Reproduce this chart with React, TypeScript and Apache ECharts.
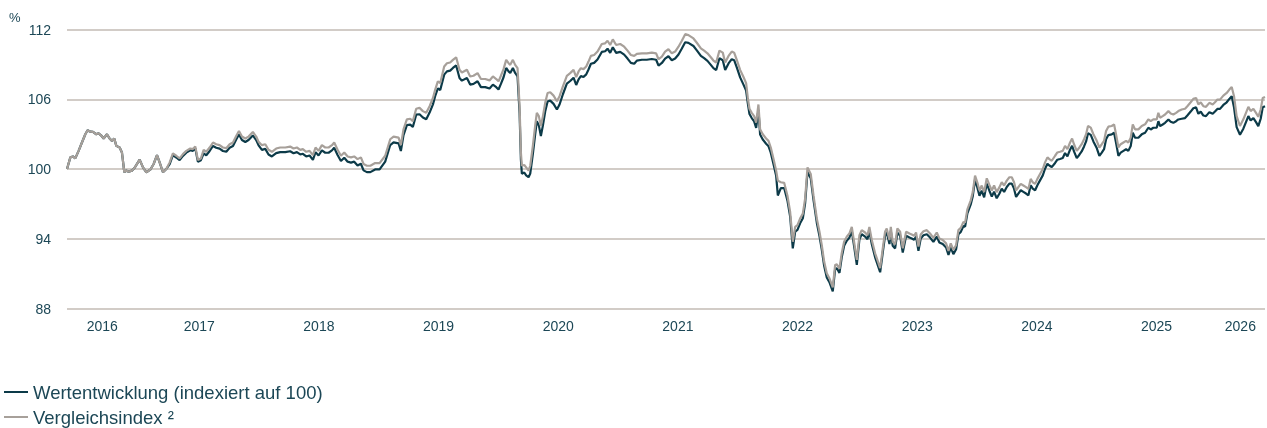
import { useEffect, useRef } from "react";
import * as echarts from "echarts";

// Decimal-year time stamps of the observations
const dates = [
  2016.395, 2016.423, 2016.445, 2016.464, 2016.492, 2016.520, 2016.548, 2016.567, 2016.590, 2016.612,
  2016.640, 2016.659, 2016.679, 2016.701, 2016.729, 2016.751, 2016.771, 2016.790, 2016.807, 2016.835,
  2016.854, 2016.874, 2016.890, 2016.910, 2016.938, 2016.957, 2017.002, 2017.030, 2017.058, 2017.091,
  2017.119, 2017.147, 2017.169, 2017.197, 2017.225, 2017.253, 2017.280, 2017.308, 2017.336, 2017.364,
  2017.392, 2017.425, 2017.447, 2017.467, 2017.489, 2017.514, 2017.537, 2017.559, 2017.587, 2017.615,
  2017.642, 2017.670, 2017.698, 2017.726, 2017.754, 2017.782, 2017.809, 2017.832, 2017.857, 2017.885,
  2017.912, 2017.948, 2017.976, 2017.996, 2018.024, 2018.052, 2018.079, 2018.107, 2018.143, 2018.177,
  2018.219, 2018.260, 2018.288, 2018.316, 2018.344, 2018.366, 2018.394, 2018.422, 2018.450, 2018.472,
  2018.497, 2018.525, 2018.553, 2018.581, 2018.609, 2018.628, 2018.656, 2018.684, 2018.712, 2018.740,
  2018.768, 2018.795, 2018.823, 2018.851, 2018.873, 2018.901, 2018.930, 2018.970, 2019.007,
  2019.054, 2019.096, 2019.124, 2019.166, 2019.185, 2019.207, 2019.235, 2019.263, 2019.285, 2019.313,
  2019.341, 2019.369, 2019.397, 2019.425, 2019.453, 2019.472, 2019.494, 2019.514, 2019.547, 2019.570,
  2019.597, 2019.620, 2019.647, 2019.675, 2019.695, 2019.737, 2019.764, 2019.792, 2019.826, 2019.854,
  2019.890, 2019.926, 2019.954, 2019.982, 2020.001, 2020.021, 2020.043, 2020.065, 2020.085, 2020.099,
  2020.121, 2020.140, 2020.160, 2020.177, 2020.188, 2020.196, 2020.216, 2020.232, 2020.252, 2020.266,
  2020.288, 2020.307, 2020.321, 2020.338, 2020.355, 2020.372, 2020.391, 2020.411, 2020.433, 2020.461,
  2020.489, 2020.511, 2020.539, 2020.572, 2020.600, 2020.628, 2020.650, 2020.670, 2020.689, 2020.711,
  2020.734, 2020.753, 2020.773, 2020.800, 2020.828, 2020.864, 2020.892, 2020.912, 2020.934, 2020.956,
  2020.984, 2021.018, 2021.051, 2021.079, 2021.107, 2021.135, 2021.157, 2021.199, 2021.240, 2021.282,
  2021.318, 2021.338, 2021.366, 2021.393, 2021.421, 2021.449, 2021.477, 2021.505, 2021.533, 2021.561, 2021.588,
  2021.630, 2021.658, 2021.692, 2021.719, 2021.747, 2021.775, 2021.797, 2021.820, 2021.847, 2021.875,
  2021.895, 2021.923, 2021.950, 2021.970, 2021.992, 2022.020, 2022.048, 2022.070, 2022.084, 2022.098,
  2022.117, 2022.137, 2022.154, 2022.173, 2022.187, 2022.209, 2022.237, 2022.257, 2022.276, 2022.299,
  2022.321, 2022.335, 2022.360, 2022.388, 2022.415, 2022.438, 2022.460, 2022.480, 2022.499, 2022.521,
  2022.544, 2022.563, 2022.583, 2022.610, 2022.633, 2022.661, 2022.683, 2022.702, 2022.722, 2022.744,
  2022.766, 2022.794, 2022.814, 2022.828, 2022.850, 2022.869, 2022.889, 2022.911, 2022.933, 2022.953,
  2022.972, 2022.995, 2023.017, 2023.036, 2023.064, 2023.084, 2023.100, 2023.120, 2023.148, 2023.190,
  2023.212, 2023.231, 2023.245, 2023.268, 2023.279, 2023.295, 2023.315, 2023.334, 2023.357, 2023.379,
  2023.407, 2023.435, 2023.454, 2023.474, 2023.490, 2023.510, 2023.529, 2023.552, 2023.580, 2023.607,
  2023.635, 2023.663, 2023.685, 2023.713, 2023.741, 2023.761, 2023.780, 2023.802, 2023.825, 2023.844,
  2023.864, 2023.886, 2023.900, 2023.919, 2023.947, 2023.964, 2023.983, 2024.003, 2024.020, 2024.039,
  2024.059, 2024.081, 2024.103, 2024.123, 2024.142, 2024.164, 2024.187,
  2024.206, 2024.226, 2024.248, 2024.270, 2024.290, 2024.309, 2024.326, 2024.345, 2024.365, 2024.387,
  2024.409, 2024.429, 2024.448, 2024.465, 2024.485, 2024.504, 2024.526, 2024.549, 2024.568, 2024.588,
  2024.604, 2024.624, 2024.652, 2024.671, 2024.693, 2024.716, 2024.735, 2024.755, 2024.777, 2024.794,
  2024.810, 2024.833, 2024.855, 2024.874, 2024.894, 2024.911, 2024.927, 2024.950, 2024.972, 2025.000,
  2025.022, 2025.042, 2025.061, 2025.078, 2025.097, 2025.125, 2025.145, 2025.161, 2025.181, 2025.200,
  2025.223, 2025.245, 2025.264, 2025.284, 2025.301, 2025.320, 2025.348, 2025.376, 2025.404, 2025.431,
  2025.451, 2025.473, 2025.501, 2025.515, 2025.529, 2025.551, 2025.571, 2025.599, 2025.618, 2025.640,
  2025.663, 2025.682, 2025.710, 2025.738, 2025.757, 2025.785, 2025.807, 2025.830, 2025.849, 2025.869,
  2025.891, 2025.913, 2025.941, 2025.969, 2025.988, 2026.008, 2026.030, 2026.058, 2026.086, 2026.108,
  2026.128, 2026.147, 2026.169, 2026.197, 2026.225, 2026.247, 2026.267, 2026.286, 2026.309, 2026.331,
  2026.350, 2026.370, 2026.387, 2026.406,
];

// Fund performance (indexed to 100)
const wertentwicklung = [
  100.00, 101.00, 101.08, 100.91, 101.56, 102.28, 102.99, 103.33, 103.21, 103.19,
  102.99, 103.07, 102.90, 102.62, 102.99, 102.62, 102.42, 102.62, 101.99, 101.85,
  101.42, 99.72, 99.86, 99.77, 99.86, 100.06, 100.80, 100.14, 99.72, 99.94,
  100.43, 101.19, 100.57, 99.72, 100.00, 100.42, 101.19, 100.99, 100.76, 101.13,
  101.41, 101.61, 101.56, 101.78, 100.62, 100.76, 101.35, 101.18, 101.55, 101.98,
  101.83, 101.75, 101.55, 101.49, 101.83, 101.98, 102.54, 102.97, 102.49, 102.32,
  102.49, 102.89, 102.49, 102.03, 101.65, 101.73, 101.25, 101.08, 101.36, 101.45,
  101.45, 101.53, 101.36, 101.45, 101.25, 101.31, 101.08, 101.16, 100.79, 101.45,
  101.16, 101.60, 101.40, 101.40, 101.60, 101.83, 101.20, 100.69, 100.97, 100.63,
  100.55, 100.63, 100.30, 100.45, 99.88, 99.73, 99.73, 99.96, 99.96,
  100.64, 102.06, 102.29, 102.20, 101.55, 102.91, 103.77, 103.82, 103.62, 104.68,
  104.71, 104.43, 104.28, 104.85, 105.56, 106.28, 106.94, 106.79, 108.12, 108.40,
  108.46, 108.69, 108.91, 107.83, 107.60, 107.83, 107.26, 107.32, 107.55, 107.04,
  107.04, 106.92, 107.26, 107.04, 106.84, 107.32, 107.89, 108.69, 108.40, 108.26,
  108.69, 108.26, 107.97, 104.80, 100.80, 99.60, 99.70, 99.45, 99.29, 99.60,
  101.30, 102.95, 104.10, 103.75, 102.84, 103.75, 104.95, 105.80, 105.88, 105.60,
  105.12, 105.55, 106.43, 107.34, 107.57, 107.85, 107.23, 107.71, 107.99, 107.91,
  108.14, 108.56, 109.05, 109.13, 109.42, 110.07, 110.13, 110.35, 109.99, 110.47,
  109.99, 110.07, 109.84, 109.50, 109.13, 109.05, 109.32, 109.40, 109.40, 109.46,
  109.40, 108.89, 109.12, 109.50, 109.70, 109.35, 109.50, 109.85, 110.36, 110.90, 110.85,
  110.58, 110.21, 109.73, 109.53, 109.30, 108.96, 108.68, 108.51, 109.53, 109.36,
  108.51, 109.08, 109.45, 109.36, 108.74, 107.88, 107.26, 106.74, 105.66, 104.73,
  104.38, 104.10, 103.53, 105.10, 102.96, 102.54, 102.17, 101.97, 101.40, 100.40,
  99.41, 97.72, 98.36, 98.36, 97.30, 95.90, 93.17, 94.62, 94.77, 95.33,
  95.76, 97.04, 99.74, 99.20, 97.35, 95.36, 94.23, 93.09, 91.67, 90.67,
  90.26, 89.48, 91.40, 91.46, 91.06, 92.40, 93.39, 93.82, 94.10, 94.67,
  93.39, 91.75, 93.96, 94.39, 94.19, 93.96, 94.67, 93.54, 92.40, 91.12,
  92.82, 94.25, 94.53, 93.54, 94.67, 93.39, 93.17, 94.53, 94.25, 92.82,
  94.25, 94.10, 94.02, 93.91, 94.19, 92.97, 94.02, 94.30, 94.39, 94.10,
  93.73, 94.19, 93.68, 93.54, 93.25, 92.60, 93.25, 92.68, 93.11, 94.39,
  94.59, 95.10, 95.04, 96.18, 96.95, 97.66, 99.08, 98.36, 97.70, 98.13,
  97.56, 98.75, 98.13, 97.62, 98.05, 97.48, 97.89,
  98.31, 98.03, 98.45, 98.74, 98.74, 98.31, 97.60, 97.89, 98.17, 98.03,
  97.89, 97.74, 98.60, 98.31, 98.17, 98.60, 99.02, 99.45, 100.02, 100.45,
  100.30, 100.16, 100.52, 100.80, 100.86, 100.94, 101.37, 101.09, 101.66, 102.00,
  101.51, 100.94, 101.23, 101.51, 101.94, 102.37, 103.08, 102.94, 102.37, 101.80,
  101.13, 101.41, 101.70, 102.55, 102.92, 102.98, 103.12, 102.27, 101.13, 101.41,
  101.56, 101.70, 101.56, 101.98, 103.12, 102.69, 102.69, 102.98, 103.12, 103.55,
  103.40, 103.55, 103.55, 104.11, 103.69, 103.83, 103.97, 104.26, 104.06, 103.97,
  104.11, 104.26, 104.32, 104.38, 104.60, 104.94, 105.23, 105.31, 104.75, 104.94,
  104.60, 104.55, 104.89, 104.75, 104.94, 105.17, 105.17, 105.51, 105.74, 106.03,
  106.25, 105.30, 103.60, 102.95, 103.47, 104.03, 104.55, 104.18, 104.38, 104.03,
  103.69, 104.32, 105.31, 105.40,
];

// Benchmark index
const vergleichsindex = [
  100.00, 101.00, 101.08, 100.91, 101.56, 102.28, 102.99, 103.33, 103.21, 103.19,
  102.99, 103.07, 102.90, 102.62, 102.99, 102.62, 102.42, 102.62, 101.99, 101.85,
  101.42, 99.72, 99.86, 99.77, 99.86, 100.06, 100.80, 100.14, 99.72, 99.94,
  100.43, 101.19, 100.57, 99.72, 100.00, 100.57, 101.34, 101.14, 100.91, 101.28,
  101.56, 101.76, 101.71, 101.93, 100.77, 100.91, 101.65, 101.48, 101.85, 102.28,
  102.13, 102.05, 101.85, 101.79, 102.13, 102.28, 102.84, 103.27, 102.79, 102.62,
  102.79, 103.19, 102.79, 102.33, 102.05, 102.13, 101.65, 101.48, 101.76, 101.85,
  101.85, 101.93, 101.76, 101.85, 101.65, 101.71, 101.48, 101.56, 101.19, 101.85,
  101.56, 102.05, 101.85, 101.85, 102.05, 102.28, 101.65, 101.14, 101.42, 101.08,
  101.00, 101.08, 100.85, 101.00, 100.43, 100.28, 100.28, 100.51, 100.51,
  101.14, 102.56, 102.79, 102.70, 102.05, 103.41, 104.27, 104.32, 104.12, 105.18,
  105.26, 104.98, 104.83, 105.40, 106.11, 106.83, 107.54, 107.39, 108.82, 109.10,
  109.16, 109.39, 109.61, 108.53, 108.30, 108.53, 107.96, 108.02, 108.25, 107.74,
  107.74, 107.62, 107.96, 107.74, 107.54, 108.02, 108.59, 109.39, 109.10, 108.96,
  109.39, 108.96, 108.67, 105.40, 101.42, 100.28, 100.34, 100.14, 99.86, 100.28,
  101.99, 103.70, 104.83, 104.55, 103.70, 104.55, 105.69, 106.54, 106.60, 106.31,
  105.83, 106.26, 107.11, 108.02, 108.25, 108.53, 107.91, 108.39, 108.67, 108.59,
  108.82, 109.24, 109.73, 109.81, 110.10, 110.75, 110.81, 111.03, 110.67, 111.15,
  110.67, 110.75, 110.52, 110.18, 109.81, 109.73, 109.90, 109.95, 109.95, 110.01,
  109.95, 109.44, 109.67, 110.10, 110.30, 109.95, 110.10, 110.52, 111.03, 111.60, 111.52,
  111.23, 110.86, 110.38, 110.18, 109.95, 109.61, 109.33, 109.16, 110.18, 110.01,
  109.16, 109.73, 110.10, 110.01, 109.39, 108.53, 107.91, 107.39, 106.11, 105.18,
  104.83, 104.55, 103.98, 105.55, 103.41, 102.99, 102.62, 102.42, 101.85, 100.85,
  99.86, 99.00, 98.86, 98.81, 97.72, 96.30, 93.74, 95.02, 95.17, 95.73,
  96.16, 97.44, 100.14, 99.57, 97.72, 95.73, 94.60, 93.46, 92.04, 91.04,
  90.61, 89.82, 91.75, 91.81, 91.41, 92.75, 93.74, 94.17, 94.45, 95.02,
  93.74, 92.18, 94.31, 94.74, 94.54, 94.31, 95.02, 93.89, 92.75, 91.47,
  93.17, 94.60, 94.88, 93.89, 95.02, 93.74, 93.52, 94.88, 94.60, 93.17,
  94.60, 94.45, 94.37, 94.26, 94.54, 93.32, 94.37, 94.65, 94.74, 94.45,
  94.08, 94.54, 94.03, 93.89, 93.60, 92.95, 93.60, 93.03, 93.46, 94.74,
  94.94, 95.45, 95.39, 96.53, 97.30, 98.01, 99.43, 98.81, 98.15, 98.58,
  98.01, 99.20, 98.63, 98.15, 98.58, 98.01, 98.44,
  98.86, 98.58, 99.00, 99.29, 99.29, 98.86, 98.15, 98.44, 98.72, 98.58,
  98.44, 98.29, 99.15, 98.86, 98.72, 99.15, 99.57, 100.00, 100.57, 101.00,
  100.85, 100.71, 101.14, 101.42, 101.48, 101.56, 101.99, 101.71, 102.28, 102.62,
  102.13, 101.56, 101.85, 102.13, 102.56, 102.99, 103.70, 103.56, 102.99, 102.42,
  101.85, 102.13, 102.42, 103.27, 103.64, 103.70, 103.84, 102.99, 101.85, 102.13,
  102.28, 102.42, 102.28, 102.70, 103.84, 103.41, 103.41, 103.70, 103.84, 104.27,
  104.12, 104.27, 104.27, 104.83, 104.41, 104.55, 104.69, 104.98, 104.78, 104.69,
  104.83, 104.98, 105.12, 105.18, 105.40, 105.74, 106.03, 106.11, 105.55, 105.74,
  105.40, 105.35, 105.69, 105.55, 105.74, 105.97, 105.97, 106.31, 106.54, 106.83,
  107.05, 106.26, 104.55, 103.70, 104.27, 104.83, 105.35, 104.98, 105.18, 104.83,
  104.49, 105.12, 106.11, 106.20,
];

const seriesNames = ["Wertentwicklung (indexiert auf 100)", "Vergleichsindex \u00B2"];
const yearLabelPositions = [2016.69, 2017.5, 2018.5, 2019.5, 2020.5, 2021.5, 2022.5, 2023.5, 2024.5, 2025.5, 2026.2];
const yMin = 88;
const yMax = 112;
const yStep = 6;
const unitLabel = "%";

const FONT = 'Arial, "Liberation Sans", "Helvetica Neue", sans-serif';
const TEXT = "#1c4756";
const DARK = "#0c3a48";
const GREY = "#a7a09a";
const GRID = "#d2ccc7";

const legendBase = {
  orient: "horizontal",
  left: 4,
  itemWidth: 24,
  itemHeight: 2,
  icon: "rect",
  padding: 0,
  textStyle: { color: TEXT, fontSize: 18.5, fontFamily: FONT, lineHeight: 20 },
};

export default function App() {
  const ref = useRef<HTMLDivElement>(null);
  useEffect(() => {
    const chart = echarts.init(ref.current!, null, { renderer: "svg" });
    chart.setOption({
      animation: false,
      textStyle: { fontFamily: FONT },
      grid: { left: 67, right: 2, top: 29.5, bottom: 119.5, containLabel: false },
      xAxis: {
        type: "value",
        min: dates[0],
        max: dates[dates.length - 1],
        axisLine: { show: false },
        axisTick: { show: false },
        splitLine: { show: false },
        axisLabel: {
          customValues: yearLabelPositions,
          formatter: (v: number) => String(Math.floor(v)),
          color: TEXT,
          fontSize: 14,
          fontFamily: FONT,
          margin: 10,
        },
      },
      yAxis: {
        type: "value",
        min: yMin,
        max: yMax,
        interval: yStep,
        axisLine: { show: false },
        axisTick: { show: false },
        splitLine: { lineStyle: { color: GRID, width: 2 } },
        axisLabel: { color: TEXT, fontSize: 14, fontFamily: FONT, margin: 16 },
      },
      legend: [
        { ...legendBase, top: 382, data: [seriesNames[0]] },
        { ...legendBase, top: 407, data: [seriesNames[1]] },
      ],
      graphic: [
        {
          type: "text",
          left: 9,
          top: 11,
          style: { text: unitLabel, fill: TEXT, fontSize: 13, fontFamily: FONT },
        },
      ],
      series: [
        {
          name: seriesNames[0],
          type: "line",
          showSymbol: false,
          color: DARK,
          lineStyle: { color: DARK, width: 2.2 },
          data: dates.map((d, i) => [d, wertentwicklung[i]]),
        },
        {
          name: seriesNames[1],
          type: "line",
          showSymbol: false,
          color: GREY,
          lineStyle: { color: GREY, width: 2.2 },
          data: dates.map((d, i) => [d, vergleichsindex[i]]),
        },
      ],
    });
    return () => chart.dispose();
  }, []);
  return <div ref={ref} style={{ position: "fixed", left: 0, top: 0, width: 1267, height: 428 }} />;
}
